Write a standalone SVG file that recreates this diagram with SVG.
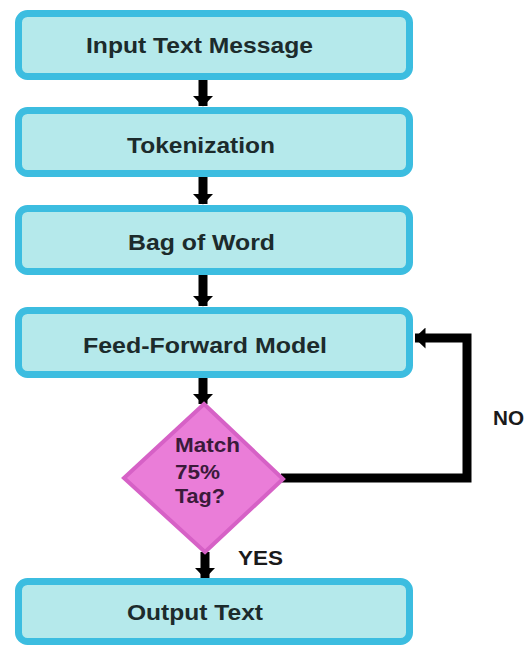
<svg xmlns="http://www.w3.org/2000/svg" width="526" height="646" viewBox="0 0 526 646">
<defs>
<style>
.box{fill:#b5e9eb;stroke:#3cbde0;stroke-width:7}
.dia{fill:#ea7dd8;stroke:#d661c6;stroke-width:4}
.t{font-family:"Liberation Sans",Arial,sans-serif;font-weight:bold;font-size:22px;fill:#1c2b2c}
.dt{font-family:"Liberation Sans",Arial,sans-serif;font-weight:bold;font-size:21px;fill:#3a1a3a}
.lbl{font-family:"Liberation Sans",Arial,sans-serif;font-weight:bold;font-size:20px;fill:#1a1a1a}
.c{fill:none;stroke:#000;stroke-width:9}
</style>
<marker id="ah" markerUnits="userSpaceOnUse" markerWidth="11" markerHeight="21" viewBox="0 0 11 21" refX="10.5" refY="10.5" orient="auto">
<path d="M0,0 L11,10.5 L0,21 Z" fill="#000"/>
</marker>
</defs>
<rect width="526" height="646" fill="#fff"/>
<g id="connectors">
<line class="c" x1="203" y1="80" x2="203" y2="106" marker-end="url(#ah)"/>
<line class="c" x1="203" y1="177" x2="203" y2="204" marker-end="url(#ah)"/>
<line class="c" x1="203" y1="275" x2="203" y2="306" marker-end="url(#ah)"/>
<line class="c" x1="203" y1="378" x2="203" y2="404" marker-end="url(#ah)"/>
<line class="c" x1="205" y1="552" x2="205" y2="578" marker-end="url(#ah)"/>
<polyline class="c" points="281,478 467,478 467,338 415,338" marker-end="url(#ah)"/>
</g>
<g id="n1"><rect class="box" x="18.5" y="13.5" width="391" height="63" rx="9"/><text class="t" x="86" y="53" textLength="227" lengthAdjust="spacingAndGlyphs">Input Text Message</text></g>
<g id="n2"><rect class="box" x="18.5" y="110.5" width="391" height="63" rx="9"/><text class="t" x="127" y="153" textLength="148" lengthAdjust="spacingAndGlyphs">Tokenization</text></g>
<g id="n3"><rect class="box" x="18.5" y="208.5" width="391" height="63" rx="9"/><text class="t" x="128" y="250" textLength="147" lengthAdjust="spacingAndGlyphs">Bag of Word</text></g>
<g id="n4"><rect class="box" x="18.5" y="310.5" width="391" height="64" rx="9"/><text class="t" x="83" y="353" textLength="244" lengthAdjust="spacingAndGlyphs">Feed-Forward Model</text></g>
<g id="n5"><polygon class="dia" points="204,404 283,479 205,552 124,478"/>
<text class="dt" x="175" y="452" textLength="65" lengthAdjust="spacingAndGlyphs">Match</text>
<text class="dt" x="175" y="479" textLength="45" lengthAdjust="spacingAndGlyphs">75%</text>
<text class="dt" x="175" y="503" textLength="50" lengthAdjust="spacingAndGlyphs">Tag?</text></g>
<g id="n6"><rect class="box" x="18.5" y="581.5" width="391" height="60" rx="9"/><text class="t" x="127" y="620" textLength="136" lengthAdjust="spacingAndGlyphs">Output Text</text></g>
<text class="lbl" x="238" y="565" textLength="45" lengthAdjust="spacingAndGlyphs">YES</text>
<text class="lbl" x="493" y="425" textLength="31" lengthAdjust="spacingAndGlyphs">NO</text>
</svg>
